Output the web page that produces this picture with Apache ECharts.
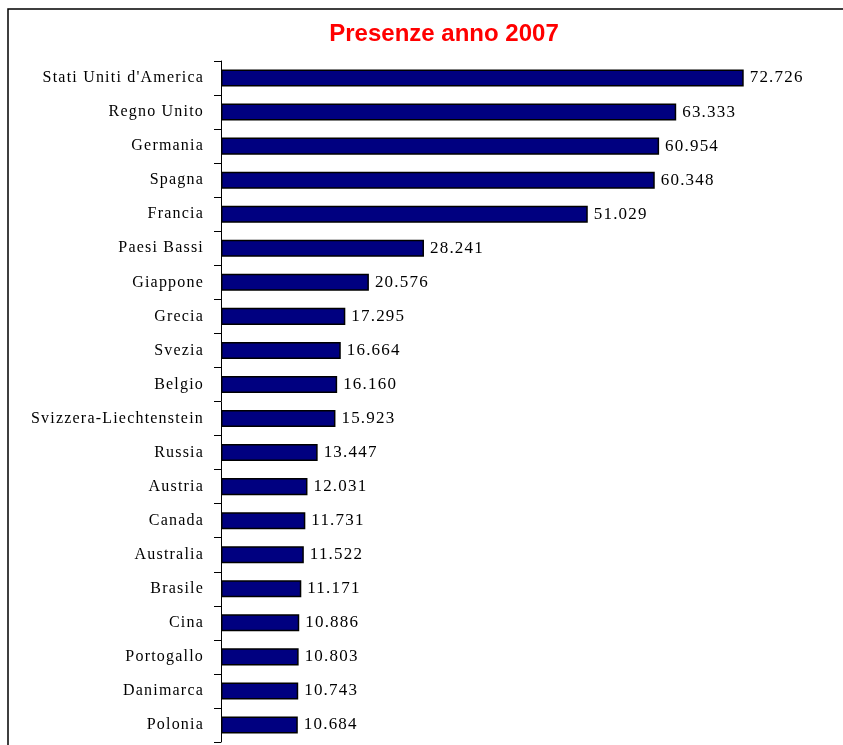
<!DOCTYPE html>
<html>
<head>
<meta charset="utf-8">
<script src="https://cdn.jsdelivr.net/npm/echarts@6/dist/echarts.min.js"></script>
<style>html,body{margin:0;padding:0;background:#fff}#c{width:843px;height:745px}</style>
</head>
<body>
<div id="c"></div>
<script>
const categories = ["Stati Uniti d'America","Regno Unito","Germania","Spagna","Francia","Paesi Bassi","Giappone","Grecia","Svezia","Belgio","Svizzera-Liechtenstein","Russia","Austria","Canada","Australia","Brasile","Cina","Portogallo","Danimarca","Polonia"];
const values = [72726,63333,60954,60348,51029,28241,20576,17295,16664,16160,15923,13447,12031,11731,11522,11171,10886,10803,10743,10684];
const titleText = "Presenze anno 2007";

// widen serif text tracking to mimic the reference's loose letter spacing
(function(){
  const P = CanvasRenderingContext2D.prototype;
  const orig = P.fillText;
  P.fillText = function(t, x, y, w){
    if ('letterSpacing' in this) {
      this.letterSpacing = /Liberation Serif/.test(this.font) ? '1.2px' : '0px';
    }
    const r = w === undefined ? orig.call(this, t, x, y) : orig.call(this, t, x, y, w);
    if ('letterSpacing' in this) this.letterSpacing = '0px';
    return r;
  };
})();

function fmt(v){
  return String(v).replace(/\B(?=(\d{3})+(?!\d))/g, '.');
}
const chart = echarts.init(document.getElementById('c'), null, {renderer:'canvas'});
chart.setOption({
  animation:false,
  backgroundColor:'#fff',
  title:{
    text:titleText, left:439, top:17, textAlign:'center',
    textStyle:{color:'#ff0000', fontFamily:'Arial, sans-serif', fontWeight:'bold', fontSize:24}
  },
  graphic:[{
    type:'rect', shape:{x:8,y:9,width:900,height:800},
    style:{fill:'none', stroke:'#000', lineWidth:1.5}, silent:true, z:-1
  }],
  grid:{left:221, top:61, width:575, height:681, containLabel:false},
  xAxis:{
    type:'value', min:0, max:80000, show:false,
    splitLine:{show:false}
  },
  yAxis:{
    type:'category', data:categories, inverse:true,
    axisLine:{show:true, lineStyle:{color:'#000', width:1}},
    axisTick:{show:true, length:7, lineStyle:{color:'#000'}},
    axisLabel:{margin:17, color:'#000', fontFamily:'Liberation Serif, Times New Roman, serif', fontSize:16}
  },
  series:[{
    type:'bar', data:values, barCategoryGap:'50%',
    itemStyle:{color:'#000080', borderColor:'#000', borderWidth:1.5},
    label:{show:true, position:'right', distance:6, color:'#000',
      fontFamily:'Liberation Serif, Times New Roman, serif', fontSize:17,
      formatter:p=>fmt(p.value)}
  }]
});
</script>
</body>
</html>
